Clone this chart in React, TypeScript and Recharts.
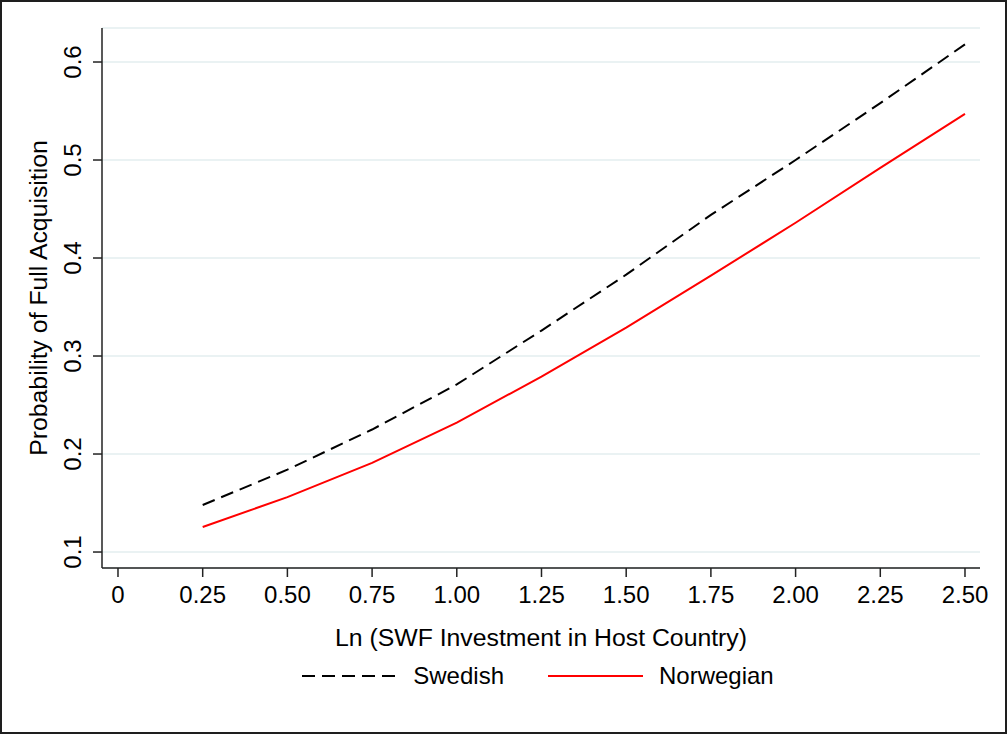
import React from 'react';
import { LineChart, Line, XAxis, YAxis, CartesianGrid, Legend } from 'recharts';

const xValues = [0.25, 0.5, 0.75, 1.0, 1.25, 1.5, 1.75, 2.0, 2.25, 2.5];
const swedish = [0.148, 0.184, 0.225, 0.271, 0.326, 0.383, 0.444, 0.5, 0.558, 0.618];
const norwegian = [0.1255, 0.156, 0.191, 0.232, 0.279, 0.329, 0.382, 0.436, 0.492, 0.547];
const xTicks = [0, 0.25, 0.5, 0.75, 1.0, 1.25, 1.5, 1.75, 2.0, 2.25, 2.5];
const yTicks = [0.1, 0.2, 0.3, 0.4, 0.5, 0.6];

const seriesInfo = [
  { key: 'swedish', name: 'Swedish', color: '#000000', dash: '13 7' },
  { key: 'norwegian', name: 'Norwegian', color: '#ff0000', dash: undefined },
];

const chartData = xValues.map((x, i) => ({ x, swedish: swedish[i], norwegian: norwegian[i] }));

const FONT = '"Liberation Sans", Arial, Helvetica, sans-serif';
const AXIS = '#222222';
const TITLE_SIZE = 24.8;

// rotated y tick labels, like Stata draws them
const YTick = (props: any) => {
  const { x, y, payload } = props;
  const bx = x - 10;
  return (
    <text
      x={bx}
      y={y}
      transform={`rotate(-90, ${bx}, ${y})`}
      textAnchor="middle"
      fontSize={24}
      fontFamily={FONT}
      fill="#000"
    >
      {payload.value.toFixed(1)}
    </text>
  );
};

const formatX = (v: number) => (v === 0 ? '0' : v.toFixed(2));

const LegendBox = () => (
  <div
    style={{
      height: 36,
      display: 'flex',
      alignItems: 'center',
      justifyContent: 'center',
      fontFamily: FONT,
      fontSize: 24,
      color: '#000',
      paddingRight: 6,
    }}
  >
    {seriesInfo.map((s, i) => (
      <div key={s.key} style={{ display: 'flex', alignItems: 'center', marginLeft: i ? 44 : 0 }}>
        <svg width={95} height={10}>
          <line x1={0} y1={5} x2={95} y2={5} stroke={s.color} strokeWidth={2} strokeDasharray={s.dash} />
        </svg>
        <span style={{ marginLeft: 16 }}>{s.name}</span>
      </div>
    ))}
  </div>
);

const YLabel = (props: any) => {
  const { viewBox } = props;
  const cx = viewBox.x + 47;
  const cy = viewBox.y + viewBox.height / 2;
  return (
    <text
      x={cx}
      y={cy}
      transform={`rotate(-90, ${cx}, ${cy})`}
      textAnchor="middle"
      fontSize={TITLE_SIZE}
      fontFamily={FONT}
      fill="#000"
    >
      Probability of Full Acquisition
    </text>
  );
};

const XLabel = (props: any) => {
  const { viewBox } = props;
  return (
    <text
      x={viewBox.x + viewBox.width / 2}
      y={viewBox.y + 78}
      textAnchor="middle"
      fontSize={TITLE_SIZE}
      fontFamily={FONT}
      fill="#000"
    >
      Ln (SWF Investment in Host Country)
    </text>
  );
};

export default function App() {
  return (
    <div style={{ position: 'absolute', left: 0, top: 0, width: 1007, height: 734, background: '#fff' }}>
      <LineChart
        width={1007}
        height={734}
        data={chartData}
        margin={{ top: 28, right: 27, left: 0, bottom: 40 }}
      >
        <CartesianGrid horizontal vertical={false} stroke="#eaf2f3" strokeWidth={2} />
        <XAxis
          dataKey="x"
          type="number"
          domain={[-0.0472, 2.5443]}
          ticks={xTicks}
          tickFormatter={formatX}
          interval={0}
          height={90}
          tickSize={9}
          tickMargin={9}
          stroke={AXIS}
          strokeWidth={1.5}
          tick={{ fontSize: 24, fontFamily: FONT, fill: '#000' }}
          label={<XLabel />}
        />
        <YAxis
          type="number"
          domain={[0.0837, 0.6347]}
          ticks={yTicks}
          interval={0}
          width={102}
          tickSize={9}
          stroke={AXIS}
          strokeWidth={1.5}
          tick={<YTick />}
          label={<YLabel />}
        />
        <Legend
          verticalAlign="bottom"
          content={<LegendBox />}
          wrapperStyle={{ left: 102, width: 878 }}
        />
        {seriesInfo.map((s) => (
          <Line
            key={s.key}
            type="linear"
            dataKey={s.key}
            name={s.name}
            stroke={s.color}
            strokeWidth={2}
            strokeDasharray={s.dash}
            dot={false}
            activeDot={false}
            isAnimationActive={false}
          />
        ))}
      </LineChart>
      <div
        style={{
          position: 'absolute',
          inset: 0,
          border: '2px solid #1e1e1e',
          boxSizing: 'border-box',
          pointerEvents: 'none',
        }}
      />
    </div>
  );
}
